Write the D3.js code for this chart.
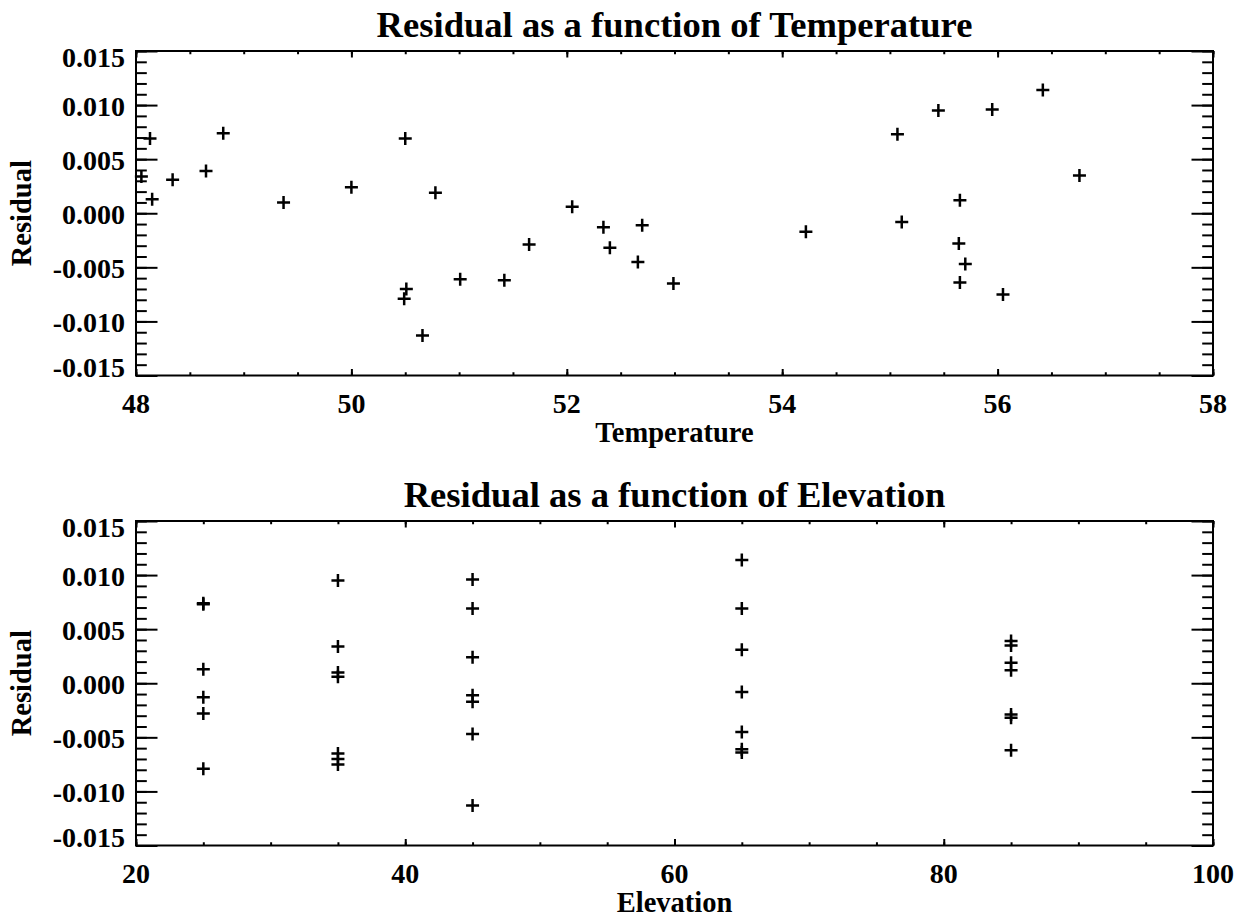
<!DOCTYPE html>
<html>
<head>
<meta charset="utf-8">
<script src="https://cdn.jsdelivr.net/npm/d3@7"></script>
<style>
  body { margin: 0; background: #fff; }
  svg text { font-family: "Liberation Serif", "Times New Roman", serif; font-weight: bold; fill: #000; }
</style>
</head>
<body>
<svg width="1246" height="920"></svg>
<script>
// one entry per station: temperature, elevation and the fit residual
var temperature = [56.42, 55.45, 55.95, 48.81, 55.07, 48.13, 50.50, 48.65, 56.76, 48.05, 48.34,
                   50.00, 50.78, 48.15, 55.65, 49.37, 52.05, 55.11, 52.70, 52.34, 54.22, 55.64,
                   51.65, 52.40, 52.66, 55.70, 51.01, 51.42, 55.65, 52.99, 50.51, 56.05, 50.49, 50.66];
var elevation   = [65, 35, 45, 25, 25, 45, 65, 85, 85, 35, 65,
                   45, 85, 25, 85, 35, 35, 65, 45, 25, 45, 25,
                   85, 85, 65, 45, 65, 85, 65, 35, 35, 35, 25, 45];
var residual    = [0.0114, 0.0095, 0.0096, 0.0074, 0.0073, 0.0069, 0.0069, 0.0039, 0.0035, 0.0034, 0.0031,
                   0.0024, 0.0019, 0.0013, 0.0012, 0.0010, 0.0006, -0.0008, -0.0011, -0.0013, -0.0017, -0.0028,
                   -0.0029, -0.0032, -0.0045, -0.0047, -0.0061, -0.0062, -0.0064, -0.0065, -0.0070, -0.0075, -0.0079, -0.0113];

var yTicks = [-0.015, -0.010, -0.005, 0.000, 0.005, 0.010, 0.015];
var tempTicks = [48, 50, 52, 54, 56, 58];
var elevTicks = [20, 40, 60, 80, 100];

var svg = d3.select("svg");
var left = 136, right = 1213, plotH = 324.5;

var panels = [
  { title: "Residual as a function of Temperature", xLabel: "Temperature",
    xs: temperature, ticks: tempTicks, minorStep: 0.5, top: 51 },
  { title: "Residual as a function of Elevation", xLabel: "Elevation",
    xs: elevation, ticks: elevTicks, minorStep: 5, top: 521 }
];

var fmt = function(d) { return d3.format(".3f")(d).replace("\u2212", "-"); };

panels.forEach(function(p) {
  var top = p.top, bottom = top + plotH;
  var x = d3.scaleLinear().domain(d3.extent(p.ticks)).range([left, right]);
  var y = d3.scaleLinear().domain(d3.extent(yTicks)).range([bottom, top]);
  var xMinor = d3.range(p.ticks[0], p.ticks[p.ticks.length - 1] + 1e-9, p.minorStep);
  var yMinor = d3.range(-0.015, 0.0150001, 0.001);
  var g = svg.append("g");

  function ticks(axis, transform) {
    g.append("g").attr("transform", transform).call(axis)
      .call(function(s) { s.select(".domain").remove(); })
      .selectAll("line").attr("stroke-width", 2);
  }
  // ticks point inward on all four sides
  ticks(d3.axisBottom(x).tickValues(xMinor).tickSize(-3.25).tickFormat(""), "translate(0," + bottom + ")");
  ticks(d3.axisBottom(x).tickValues(p.ticks).tickSize(-6.5).tickFormat(""), "translate(0," + bottom + ")");
  ticks(d3.axisTop(x).tickValues(xMinor).tickSize(-3.25).tickFormat(""), "translate(0," + top + ")");
  ticks(d3.axisTop(x).tickValues(p.ticks).tickSize(-6.5).tickFormat(""), "translate(0," + top + ")");
  ticks(d3.axisLeft(y).tickValues(yMinor).tickSize(-10.8).tickFormat(""), "translate(" + left + ",0)");
  ticks(d3.axisLeft(y).tickValues(yTicks).tickSize(-21.5).tickFormat(""), "translate(" + left + ",0)");
  ticks(d3.axisRight(y).tickValues(yMinor).tickSize(-10.8).tickFormat(""), "translate(" + right + ",0)");
  ticks(d3.axisRight(y).tickValues(yTicks).tickSize(-21.5).tickFormat(""), "translate(" + right + ",0)");

  g.append("rect")
    .attr("x", left).attr("y", top)
    .attr("width", right - left).attr("height", plotH)
    .attr("fill", "none").attr("stroke", "#000").attr("stroke-width", 2);

  // tick labels
  g.selectAll(".xl").data(p.ticks).enter().append("text")
    .attr("x", function(d) { return x(d); })
    .attr("y", bottom + 37)
    .attr("text-anchor", "middle")
    .style("font-size", "28px")
    .text(function(d) { return d; });

  g.selectAll(".yl").data(yTicks).enter().append("text")
    .attr("x", left - 11)
    .attr("y", function(d) {
      var b = y(d) + 11;
      return Math.min(Math.max(b, top + 15.5), bottom + 1);
    })
    .attr("text-anchor", "end")
    .style("font-size", "28px")
    .text(fmt);

  // titles
  g.append("text")
    .attr("x", (left + right) / 2).attr("y", top - 14)
    .attr("text-anchor", "middle")
    .style("font-size", "36.6px")
    .text(p.title);

  g.append("text")
    .attr("x", (left + right) / 2).attr("y", bottom + 66)
    .attr("text-anchor", "middle")
    .style("font-size", "28.5px")
    .text(p.xLabel);

  g.append("text")
    .attr("transform", "translate(31," + (top + bottom) / 2 + ") rotate(-90)")
    .attr("text-anchor", "middle")
    .style("font-size", "28.5px")
    .text("Residual");

  // plus-sign markers
  g.selectAll(".pt").data(d3.range(residual.length)).enter().append("path")
    .attr("transform", function(i) { return "translate(" + x(p.xs[i]) + "," + y(residual[i]) + ")"; })
    .attr("d", "M-6.5,0H6.5M0,-6.5V6.5")
    .attr("stroke", "#000")
    .attr("stroke-width", 2.5)
    .attr("fill", "none");
});
</script>
</body>
</html>
